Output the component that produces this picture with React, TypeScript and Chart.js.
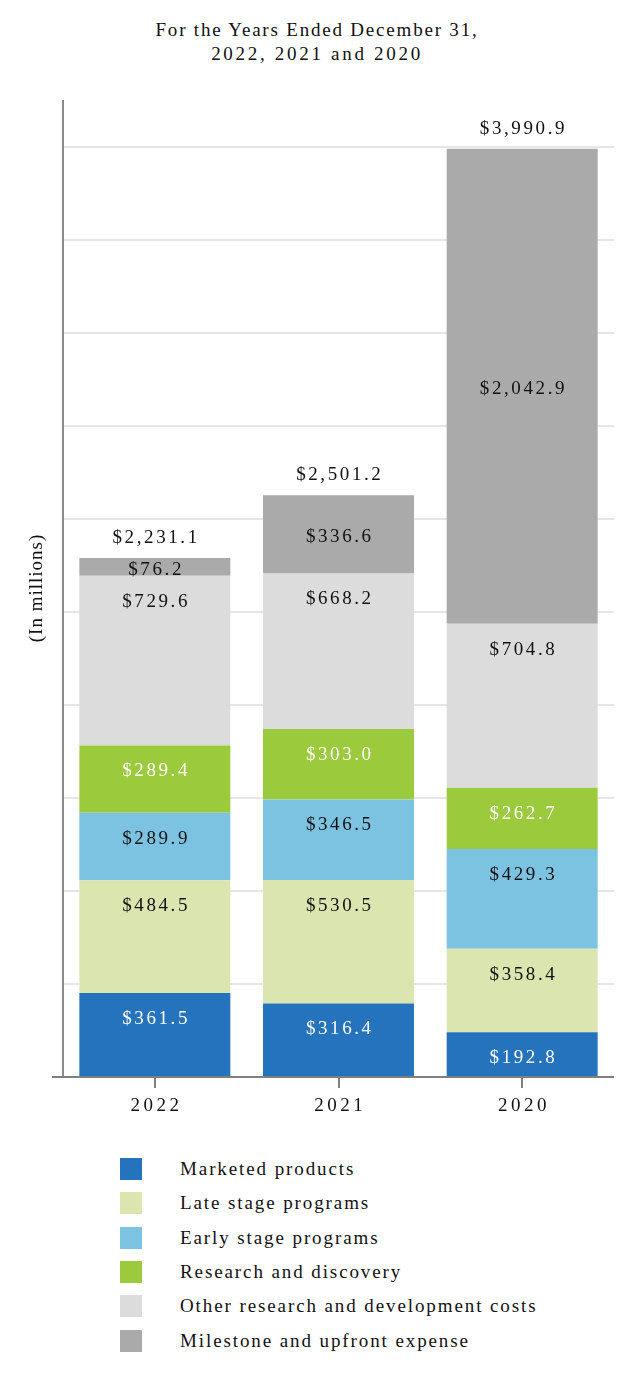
import { useEffect, useRef } from 'react';
import { Chart, registerables } from 'chart.js';
Chart.register(...registerables);

const years = ['2022', '2021', '2020'];
const seriesNames = [
  'Marketed products',
  'Late stage programs',
  'Early stage programs',
  'Research and discovery',
  'Other research and development costs',
  'Milestone and upfront expense',
];
const marketed = [361.5, 316.4, 192.8];
const lateStage = [484.5, 530.5, 358.4];
const earlyStage = [289.9, 346.5, 429.3];
const research = [289.4, 303.0, 262.7];
const otherRD = [729.6, 668.2, 704.8];
const milestone = [76.2, 336.6, 2042.9];
const totals = [2231.1, 2501.2, 3990.9];
const seriesColors = ['#2673bd', '#dbe5b0', '#7cc3e1', '#9bca3c', '#dcdcdc', '#aaaaaa'];
const labelColors = ['#ffffff', '#111111', '#111111', '#ffffff', '#111111', '#111111'];
const yMax = 4200;
const yStep = 400;
const gridMax = 4000;

const FONT = '"Liberation Serif", "DejaVu Serif", serif';

const fmt = (v: number) =>
  '$' + v.toLocaleString('en-US', { minimumFractionDigits: 1, maximumFractionDigits: 1 });

function drawText(ctx: CanvasRenderingContext2D, text: string, x: number, y: number, size: number, spacing: number, color: string) {
  ctx.save();
  ctx.font = `${size}px ${FONT}`;
  (ctx as any).letterSpacing = `${spacing}px`;
  ctx.fillStyle = color;
  ctx.textAlign = 'center';
  ctx.textBaseline = 'middle';
  ctx.fillText(text, x + spacing / 2, y);
  ctx.restore();
}

const decorPlugin = {
  id: 'decor',
  beforeDatasetsDraw(chart: any) {
    const { ctx, chartArea, scales } = chart;
    const y = scales.y;
    ctx.save();
    ctx.strokeStyle = '#e6e6e6';
    ctx.lineWidth = 2;
    for (let v = yStep; v <= gridMax; v += yStep) {
      const py = Math.round(y.getPixelForValue(v));
      ctx.beginPath();
      ctx.moveTo(chartArea.left, py);
      ctx.lineTo(chartArea.right, py);
      ctx.stroke();
    }
    ctx.restore();
  },
  afterDatasetsDraw(chart: any) {
    const { ctx, chartArea, scales } = chart;
    const x = scales.x;
    const y0 = scales.y.getPixelForValue(0);
    ctx.save();
    ctx.strokeStyle = '#8a8a8a';
    ctx.lineWidth = 2;
    ctx.beginPath();
    ctx.moveTo(chartArea.left, chartArea.top);
    ctx.lineTo(chartArea.left, y0);
    ctx.stroke();
    ctx.strokeStyle = '#7f7f7f';
    ctx.beginPath();
    ctx.moveTo(chartArea.left - 11, y0);
    ctx.lineTo(chartArea.right, y0);
    ctx.stroke();
    years.forEach((_, i) => {
      const px = Math.round(x.getPixelForValue(i));
      ctx.beginPath();
      ctx.moveTo(px, y0);
      ctx.lineTo(px, y0 + 11);
      ctx.stroke();
    });
    ctx.restore();
    years.forEach((yr, i) => {
      drawText(ctx, yr, x.getPixelForValue(i), y0 + 29, 19, 3.5, '#111111');
    });
    ctx.save();
    ctx.translate(37, (chartArea.top + chartArea.bottom) / 2);
    ctx.rotate(-Math.PI / 2);
    drawText(ctx, '(In millions)', 0, 0, 19, 1, '#111111');
    ctx.restore();
    const n = chart.data.datasets.length;
    chart.data.datasets.forEach((ds: any, di: number) => {
      const meta = chart.getDatasetMeta(di);
      meta.data.forEach((el: any, j: number) => {
        const top = Math.min(el.y, el.base);
        const bot = Math.max(el.y, el.base);
        const cy = di === n - 1 ? (top + bot) / 2 + 3 : top + 26;
        drawText(ctx, fmt(ds.data[j]), el.x, cy, 19, 2.6, labelColors[di]);
      });
    });
    const lastMeta = chart.getDatasetMeta(n - 1);
    lastMeta.data.forEach((el: any, j: number) => {
      drawText(ctx, fmt(totals[j]), el.x, Math.min(el.y, el.base) - 20, 19, 2.6, '#111111');
    });
  },
};

export default function App() {
  const ref = useRef<HTMLCanvasElement>(null);
  useEffect(() => {
    const seriesData = [marketed, lateStage, earlyStage, research, otherRD, milestone];
    const chart = new Chart(ref.current!, {
      type: 'bar',
      data: {
        labels: years,
        datasets: seriesData.map((d, i) => ({
          label: seriesNames[i],
          data: d,
          backgroundColor: seriesColors[i],
          borderWidth: 0,
          barPercentage: 0.822,
          categoryPercentage: 1,
        })),
      },
      options: {
        animation: false,
        responsive: false,
        devicePixelRatio: 1,
        layout: { padding: { left: 63, right: 20, top: 100, bottom: 53 } },
        plugins: { legend: { display: false }, tooltip: { enabled: false }, title: { display: false } },
        scales: {
          x: { stacked: true, display: false },
          y: { stacked: true, display: false, min: 0, max: yMax },
        },
      },
      plugins: [decorPlugin],
    });
    return () => chart.destroy();
  }, []);

  return (
    <div style={{ position: 'absolute', left: 0, top: 0, width: 634, height: 1386, background: '#fff', fontFamily: FONT, color: '#111' }}>
      <div style={{ position: 'absolute', left: 0, top: 18, width: 634, textAlign: 'center', fontSize: 19, lineHeight: '24px' }}>
        <div style={{ letterSpacing: '1.8px' }}>For the Years Ended December 31,</div>
        <div style={{ letterSpacing: '2.7px' }}>2022, 2021 and 2020</div>
      </div>
      <canvas ref={ref} width={634} height={1130} style={{ position: 'absolute', left: 0, top: 0, width: 634, height: 1130 }} />
      {seriesNames.map((name, i) => (
        <div key={name} style={{ position: 'absolute', left: 0, top: 1158 + i * 34.3, height: 22 }}>
          <div style={{ position: 'absolute', left: 120, top: 0, width: 22, height: 22, background: seriesColors[i] }} />
          <div style={{ position: 'absolute', left: 180, top: 0, lineHeight: '22px', fontSize: 19, letterSpacing: '1.9px', whiteSpace: 'nowrap' }}>{name}</div>
        </div>
      ))}
    </div>
  );
}
